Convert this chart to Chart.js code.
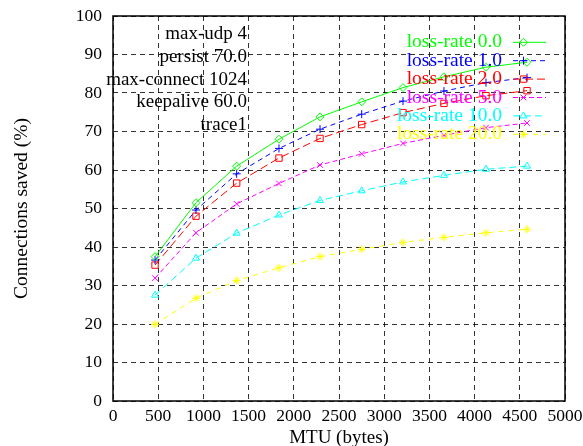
<!DOCTYPE html>
<html>
<head>
<meta charset="utf-8">
<script src="https://cdn.jsdelivr.net/npm/chart.js@4.4.0/dist/chart.umd.min.js"></script>
<style>
  html, body { margin: 0; padding: 0; background: #fff; }
</style>
</head>
<body>
<canvas id="mtuChart" width="583" height="446"></canvas>
<script>
// MTU values on the x axis (bytes)
var mtu = [465, 918, 1368, 1836, 2290, 2751, 3208, 3661, 4126, 4580];

// connections saved (%) for each loss rate
var loss0  = [37.5, 51.5, 61.0, 68.0, 73.8, 77.7, 81.4, 84.2, 86.7, 88.0];
var loss1  = [36.6, 49.6, 59.0, 65.6, 70.6, 74.5, 77.9, 80.5, 82.7, 84.0];
var loss2  = [35.3, 48.0, 56.6, 63.1, 68.2, 71.8, 74.9, 77.3, 79.3, 80.6];
var loss5  = [31.9, 43.7, 51.2, 56.5, 61.3, 64.2, 66.9, 69.0, 71.0, 72.2];
var loss10 = [27.5, 37.1, 43.6, 48.3, 52.1, 54.6, 56.9, 58.6, 60.2, 61.0];
var loss20 = [19.9, 26.7, 31.3, 34.6, 37.5, 39.4, 41.2, 42.5, 43.7, 44.6];

var seriesLabels = ["loss-rate 0.0", "loss-rate 1.0", "loss-rate 2.0",
                    "loss-rate 5.0", "loss-rate 10.0", "loss-rate 20.0"];

var xTicks = [0, 500, 1000, 1500, 2000, 2500, 3000, 3500, 4000, 4500, 5000];
var yTicks = [0, 10, 20, 30, 40, 50, 60, 70, 80, 90, 100];

var notes = ["max-udp 4", "persist 70.0", "max-connect 1024", "keepalive 60.0", "trace1"];

var FONT = '"Liberation Serif", "Times New Roman", serif';

function points(values) {
  return values.map(function (v, i) { return { x: mtu[i], y: v }; });
}

function series(label, values, color, dash, style) {
  return {
    label: label,
    data: points(values),
    borderColor: color,
    backgroundColor: color,
    borderWidth: 1,
    borderDash: dash,
    pointStyle: style,
    pointRadius: style === 'rect' ? 4.5 : 4,
    pointBorderColor: color,
    pointBackgroundColor: 'rgba(255,255,255,0)',
    pointBorderWidth: 1,
    tension: 0,
    fill: false
  };
}

// gnuplot-ish frame, text box and key
var annotate = {
  id: 'annotate',
  afterDatasetsDraw: function (chart) {
    var ctx = chart.ctx, a = chart.chartArea;
    ctx.save();
    ctx.setLineDash([]);
    ctx.strokeStyle = '#000';
    ctx.lineWidth = 1.5;
    ctx.strokeRect(a.left, a.top, a.right - a.left, a.bottom - a.top);

    ctx.textAlign = 'right';
    ctx.textBaseline = 'middle';
    ctx.fillStyle = '#000';
    ctx.font = '19px ' + FONT;
    notes.forEach(function (t, i) {
      ctx.fillText(t, 247, 34 + i * 22.8);
    });

    ctx.font = '19.5px ' + FONT;
    chart.data.datasets.forEach(function (ds, i) {
      var y = 42.3 + i * 18.4;
      ctx.fillStyle = ds.borderColor;
      ctx.fillText(ds.label, 502, y);
      ctx.strokeStyle = ds.borderColor;
      ctx.lineWidth = 1;
      ctx.setLineDash(ds.borderDash || []);
      ctx.beginPath();
      ctx.moveTo(513, y);
      ctx.lineTo(546, y);
      ctx.stroke();
      ctx.setLineDash([]);
      ctx.fillStyle = 'rgba(255,255,255,0)';
      Chart.helpers.drawPoint(ctx, {
        pointStyle: ds.pointStyle, radius: ds.pointRadius, borderWidth: 1, rotation: 0
      }, 523.5, y);
    });
    ctx.restore();
  }
};

var ctx = document.getElementById('mtuChart').getContext('2d');
new Chart(ctx, {
  type: 'line',
  data: {
    datasets: [
      series(seriesLabels[0], loss0,  '#00ff00', [],     'rectRot'),
      series(seriesLabels[1], loss1,  '#0000ff', [5, 4], 'cross'),
      series(seriesLabels[2], loss2,  '#ff0000', [8, 4], 'rect'),
      series(seriesLabels[3], loss5,  '#ff00ff', [5, 3], 'crossRot'),
      series(seriesLabels[4], loss10, '#00ffff', [7, 4], 'triangle'),
      series(seriesLabels[5], loss20, '#ffff00', [5, 5], 'star')
    ]
  },
  options: {
    responsive: false,
    animation: false,
    devicePixelRatio: 1,
    layout: { padding: { top: 16, right: 18, bottom: 0, left: 0 } },
    plugins: {
      legend: { display: false },
      tooltip: { enabled: false }
    },
    scales: {
      x: {
        type: 'linear',
        min: 0,
        max: 5000,
        afterBuildTicks: function (scale) {
          scale.ticks = xTicks.map(function (v) { return { value: v }; });
        },
        afterFit: function (scale) {
          scale.height = 45;
          scale.paddingLeft = 0;
          scale.paddingRight = 0;
        },
        grid: { color: 'rgba(0,0,0,0.8)', lineWidth: 1, drawTicks: false },
        border: { display: false, dash: [5, 4] },
        ticks: {
          padding: 5,
          color: '#000',
          font: { family: FONT, size: 17.5 },
          maxRotation: 0,
          callback: function (v) { return String(v); }
        },
        title: {
          display: true,
          text: 'MTU (bytes)',
          color: '#000',
          font: { family: FONT, size: 19, lineHeight: 0.8 },
          padding: { top: 0, bottom: 0 }
        }
      },
      y: {
        min: 0,
        max: 100,
        afterBuildTicks: function (scale) {
          scale.ticks = yTicks.map(function (v) { return { value: v }; });
        },
        afterFit: function (scale) {
          scale.width = 113;
          scale.paddingTop = 0;
          scale.paddingBottom = 0;
        },
        grid: { color: 'rgba(0,0,0,0.8)', lineWidth: 1, drawTicks: false },
        border: { display: false, dash: [5, 4] },
        ticks: {
          padding: 11,
          color: '#000',
          font: { family: FONT, size: 17.5 },
          callback: function (v) { return String(v); }
        },
        title: {
          display: true,
          text: 'Connections saved (%)',
          color: '#000',
          font: { family: FONT, size: 19.5, lineHeight: 1 },
          padding: { top: 12, bottom: 0 }
        }
      }
    }
  },
  plugins: [annotate]
});
</script>
</body>
</html>
